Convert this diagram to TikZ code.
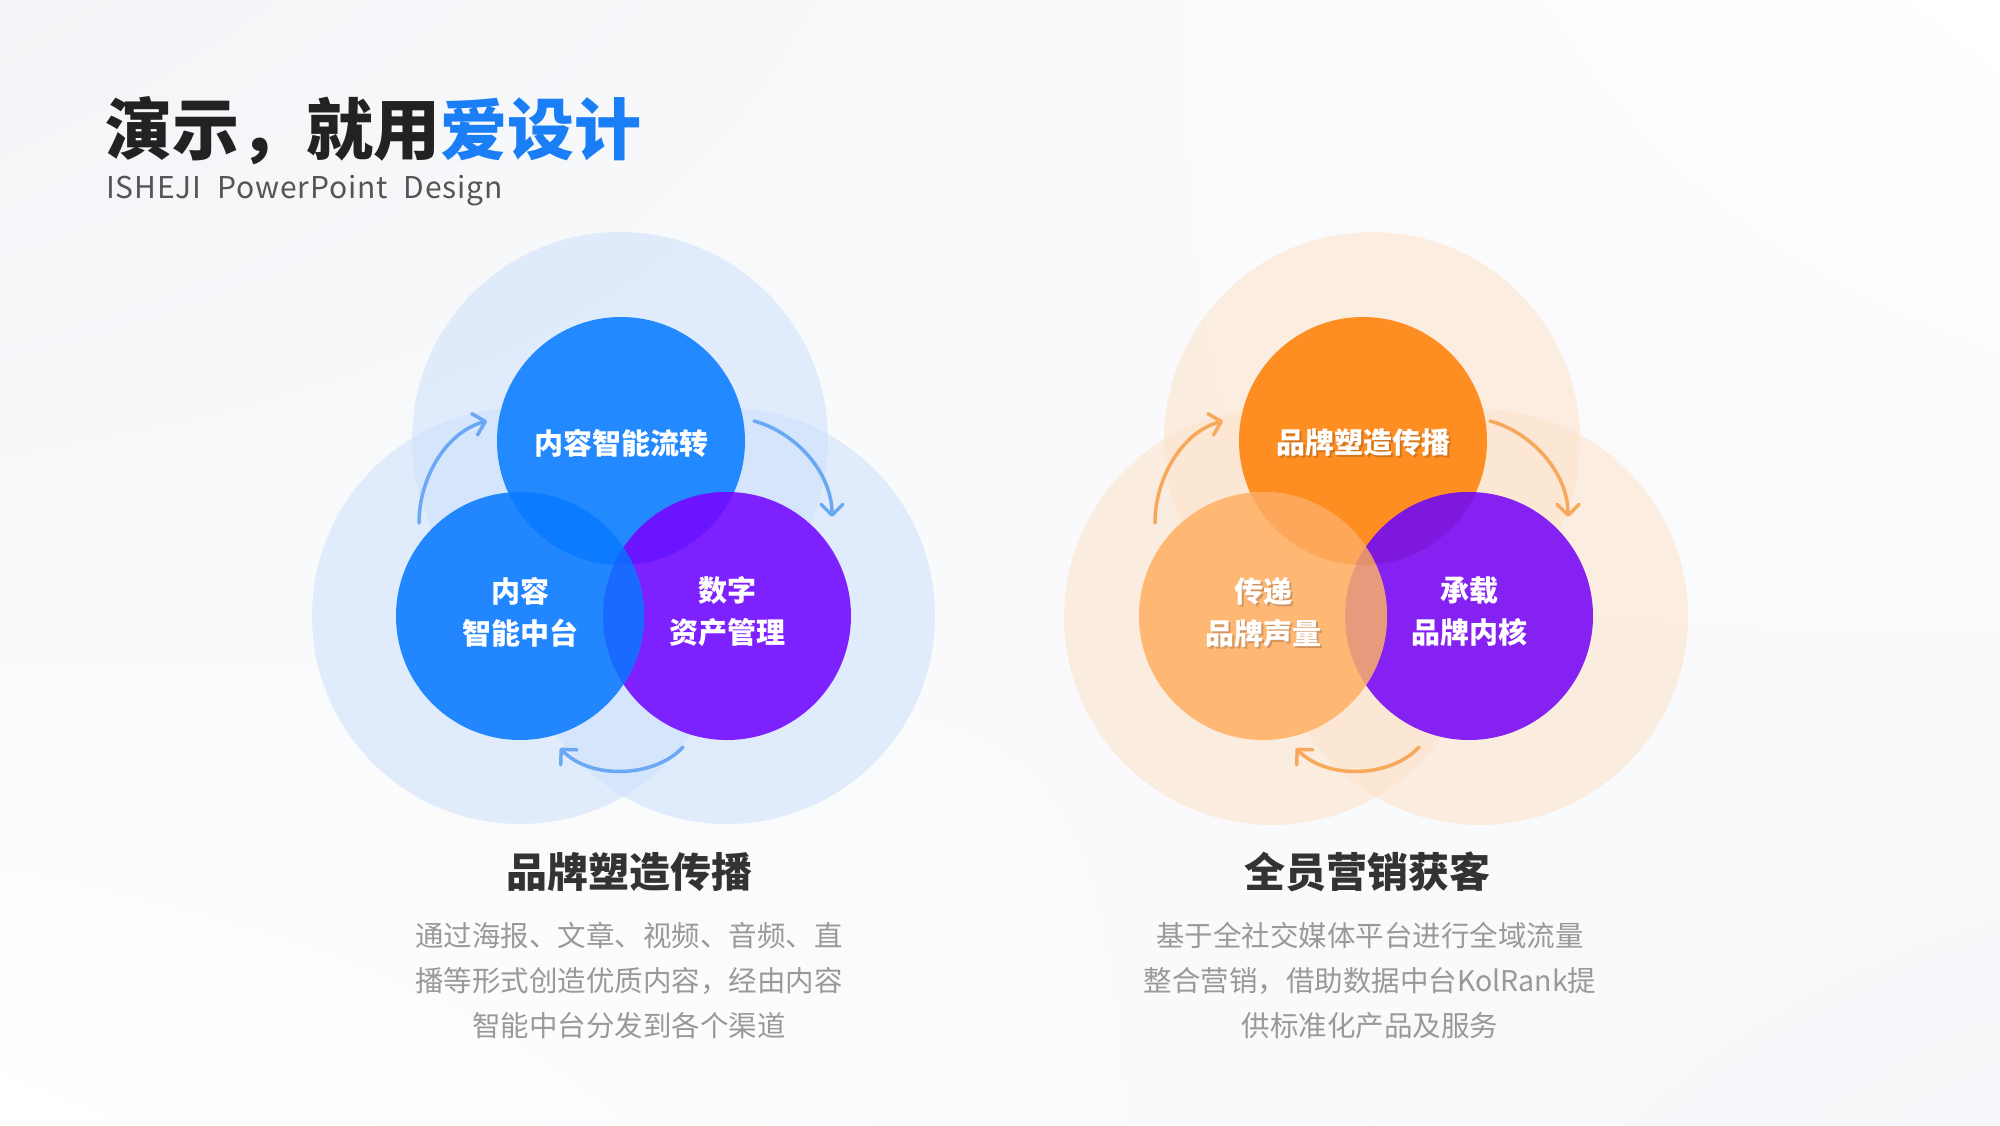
\documentclass[tikz,border=0pt]{standalone}
\usepackage{fontspec}
\setmainfont{Noto Sans CJK SC}
\usetikzlibrary{arrows.meta,shadings}
\definecolor{bgA}{HTML}{F2F4F7}
\definecolor{bgB}{HTML}{F6F7FA}
\definecolor{bigblue}{HTML}{CEE1FB}
\definecolor{bigorange}{HTML}{FDE3CC}
\definecolor{bluec}{HTML}{2389FF}
\definecolor{bluel}{HTML}{2287FF}
\definecolor{purpc}{HTML}{7D22FF}
\definecolor{ovTL}{HTML}{0B7BFF}
\definecolor{ovTP}{HTML}{6A14FF}
\definecolor{ovLP}{HTML}{1A6AFF}
\definecolor{ovTri}{HTML}{1464FF}
\definecolor{orc}{HTML}{FF8E22}
\definecolor{orl}{HTML}{FFB874}
\definecolor{purpo}{HTML}{8522F2}
\definecolor{oTL}{HTML}{FDA75A}
\definecolor{oTP}{HTML}{7E18DC}
\definecolor{oLP}{HTML}{E89A7C}
\definecolor{oTri}{HTML}{E3906F}
\definecolor{arrb}{HTML}{6AA8F5}
\definecolor{arro}{HTML}{F7A85A}
\definecolor{darktxt}{HTML}{222222}
\definecolor{brand}{HTML}{1A7FF7}
\definecolor{headtxt}{HTML}{333333}
\definecolor{bodytxt}{HTML}{999999}
\definecolor{subtxt}{HTML}{555555}
\tikzset{
  lbl/.style={text=white, font=\bfseries\fontsize{29}{42}\selectfont, align=center, inner sep=0pt},
  lblshadow/.style={text=black, opacity=0.18, font=\bfseries\fontsize{29}{42}\selectfont, align=center, inner sep=0pt},
  head/.style={text=headtxt, font=\bfseries\fontsize{41}{48}\selectfont, inner sep=0pt},
  bodytext/.style={text=bodytxt, font=\fontsize{28.5}{45}\selectfont, align=center, inner sep=0pt},
  cyc/.style={line width=3.5pt, line cap=round, -{Straight Barb[length=11pt,width=22pt,line width=3.5pt, round]}},
}
\begin{document}
\begin{tikzpicture}[x=1pt,y=-1pt]
\useasboundingbox (0,0) rectangle (2000,1125);
\shade[upper left=bgA, upper right=white, lower left=white, lower right=bgB] (0,0) rectangle (2000,1125);

% ---------- Title ----------
\node[anchor=west, inner sep=0pt, font=\bfseries\fontsize{67}{70}\selectfont] (title) at (105,131)
  {\textcolor{darktxt}{演示，就用}\textcolor{brand}{爱设计}};
\node[anchor=west, inner sep=0pt, text=subtxt, font=\fontsize{30}{34}\selectfont\addfontfeature{LetterSpace=3}] (subtitle) at (106,191)
  {ISHEJI\hspace{8pt} PowerPoint\hspace{8pt} Design};

% ---------- Left diagram (blue) ----------
\fill[bigblue, opacity=0.57] (620,440) circle[radius=208pt];
\fill[bigblue, opacity=0.57] (520,616) circle[radius=208pt];
\fill[bigblue, opacity=0.57] (727,616) circle[radius=208pt];

\fill[bluec] (621,441) circle[radius=124pt];
\fill[purpc] (727,616) circle[radius=124pt];
\fill[bluel] (520,616) circle[radius=124pt];
\begin{scope}
  \clip (621,441) circle[radius=124pt];
  \fill[ovTL] (520,616) circle[radius=124pt];
  \fill[ovTP] (727,616) circle[radius=124pt];
\end{scope}
\begin{scope}
  \clip (520,616) circle[radius=124pt];
  \fill[ovLP] (727,616) circle[radius=124pt];
\end{scope}
\begin{scope}
  \clip (621,441) circle[radius=124pt];
  \clip (520,616) circle[radius=124pt];
  \fill[ovTri] (727,616) circle[radius=124pt];
\end{scope}

\node[lbl] (lt) at (621,443) {内容智能流转};
\node[lbl] (ll) at (520,612) {内容\\智能中台};
\node[lbl] (lr) at (727,612) {数字\\资产管理};

\coordinate (la1s) at (419,523);
\coordinate (la1e) at (487,421);
\coordinate (la2s) at (754,421);
\coordinate (la2e) at (832,517);
\coordinate (la3s) at (683,747);
\coordinate (la3e) at (560,748);
\draw[cyc, arrb] (la1s) .. controls (419,478) and (446,432) .. (la1e);
\draw[cyc, arrb] (la2s) .. controls (795,432) and (832,472) .. (la2e);
\draw[cyc, arrb] (la3s) .. controls (655,778) and (590,780) .. (la3e);

\node[head] (lh) at (629,872) {品牌塑造传播};
\node[bodytext] (lb) at (629,981) {通过海报、文章、视频、音频、直\\播等形式创造优质内容，经由内容\\智能中台分发到各个渠道};

% ---------- Right diagram (orange) ----------
\fill[bigorange, opacity=0.57] (1372,440) circle[radius=208pt];
\fill[bigorange, opacity=0.57] (1272,617) circle[radius=208pt];
\fill[bigorange, opacity=0.57] (1480,617) circle[radius=208pt];

\fill[orc] (1363,441) circle[radius=124pt];
\fill[purpo] (1469,616) circle[radius=124pt];
\fill[orl] (1263,616) circle[radius=124pt];
\begin{scope}
  \clip (1363,441) circle[radius=124pt];
  \fill[oTL] (1263,616) circle[radius=124pt];
  \fill[oTP] (1469,616) circle[radius=124pt];
\end{scope}
\begin{scope}
  \clip (1263,616) circle[radius=124pt];
  \fill[oLP] (1469,616) circle[radius=124pt];
\end{scope}
\begin{scope}
  \clip (1363,441) circle[radius=124pt];
  \clip (1263,616) circle[radius=124pt];
  \fill[oTri] (1469,616) circle[radius=124pt];
\end{scope}

\node[lblshadow] (rts) at (1365,445) {品牌塑造传播};
\node[lbl] (rt) at (1363,443) {品牌塑造传播};
\node[lblshadow] (rls) at (1265,614) {传递\\品牌声量};
\node[lbl] (rl) at (1263,612) {传递\\品牌声量};
\node[lbl] (rr) at (1469,612) {承载\\品牌内核};

\coordinate (ra1s) at (1155,523);
\coordinate (ra1e) at (1223,421);
\coordinate (ra2s) at (1490,421);
\coordinate (ra2e) at (1568,517);
\coordinate (ra3s) at (1419,747);
\coordinate (ra3e) at (1296,748);
\draw[cyc, arro] (ra1s) .. controls (1155,478) and (1182,432) .. (ra1e);
\draw[cyc, arro] (ra2s) .. controls (1531,432) and (1568,472) .. (ra2e);
\draw[cyc, arro] (ra3s) .. controls (1391,778) and (1326,780) .. (ra3e);

\node[head] (rh) at (1367,872) {全员营销获客};
\node[bodytext] (rb) at (1370,981) {基于全社交媒体平台进行全域流量\\整合营销，借助数据中台KolRank提\\供标准化产品及服务};
\end{tikzpicture}
\end{document}
